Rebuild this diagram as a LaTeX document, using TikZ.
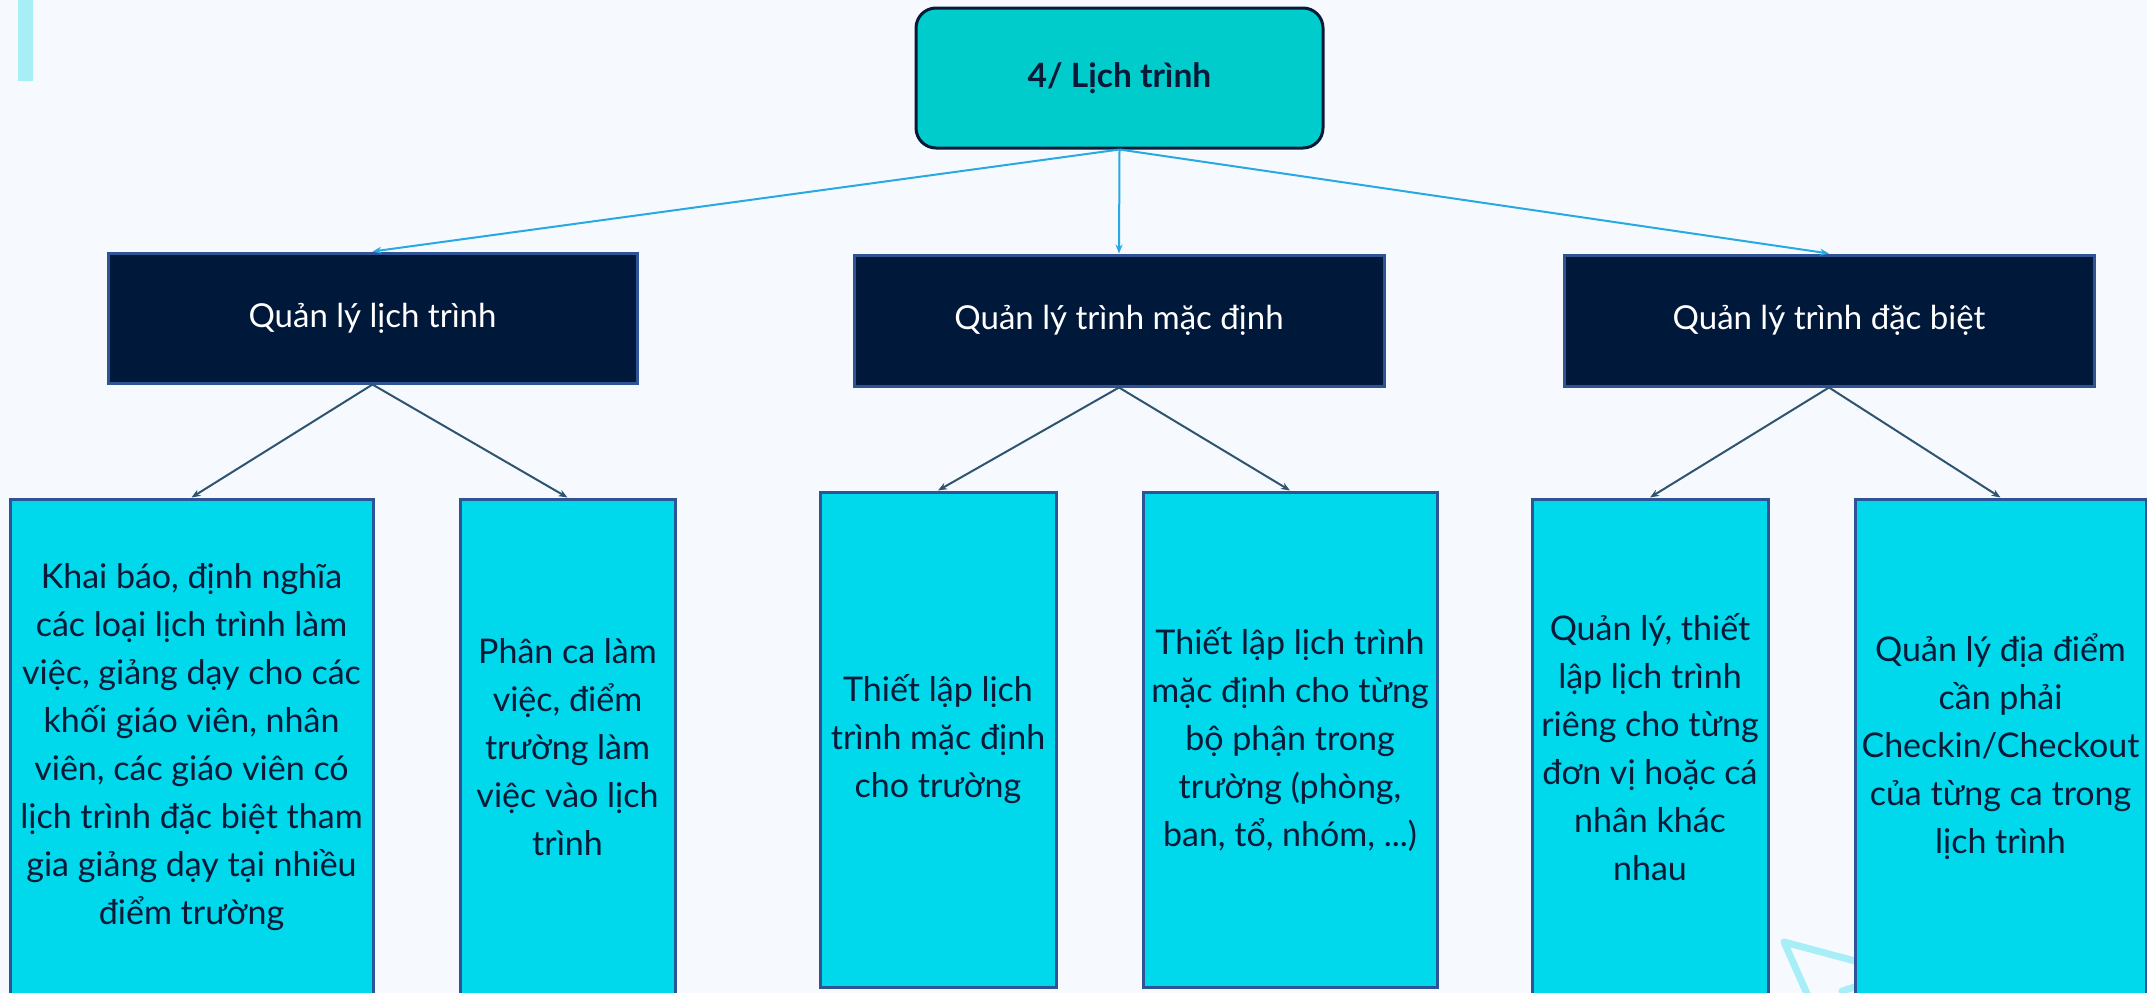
\documentclass[tikz,border=0pt]{standalone}
\usepackage{fontspec}
\setmainfont{Lato}
\usetikzlibrary{arrows.meta}
\definecolor{bgcol}{RGB}{246,250,254}
\definecolor{rootfill}{RGB}{0,204,204}
\definecolor{darkink}{RGB}{8,26,56}
\definecolor{navyfill}{RGB}{0,24,58}
\definecolor{boxline}{RGB}{47,84,150}
\definecolor{cyanfill}{RGB}{0,216,236}
\definecolor{toparrow}{RGB}{41,169,225}
\definecolor{subarrow}{RGB}{46,84,112}
\definecolor{decor}{RGB}{168,238,246}
\tikzset{
  rootbox/.style={draw=darkink, fill=rootfill, line width=3pt, rounded corners=20pt,
    inner sep=0pt, text=darkink, font=\fontsize{33.5}{40}\selectfont\bfseries},
  headbox/.style={draw=boxline, fill=navyfill, line width=3pt, inner sep=0pt,
    text=white, font=\fontsize{33}{40}\selectfont},
  leafbox/.style={draw=boxline, fill=cyanfill, line width=3pt, inner sep=0pt,
    text=darkink, align=center, font=\fontsize{34}{48}\selectfont},
  toplink/.style={draw=toparrow, line width=2pt, -{Stealth[length=9pt,width=7pt]}},
  sublink/.style={draw=subarrow, line width=2pt, -{Stealth[length=9pt,width=7pt]}},
  decorline/.style={draw=decor, line width=7pt, line cap=round, line join=round}
}
\begin{document}
\begin{tikzpicture}[x=1pt,y=-1pt]
\useasboundingbox (0,0) rectangle (2147,993);
\clip (0,0) rectangle (2147,993);
\fill[bgcol] (0,0) rectangle (2147,993);
\fill[decor] (18,0) rectangle (33,81);

% root
\node[rootbox, minimum width=407pt, minimum height=140pt] (root) at (1119.5,78) {4/ Lịch trình};

% level 2
\node[headbox, minimum width=529pt, minimum height=130pt] (a) at (372.5,318) {Quản lý lịch trình};
\node[headbox, minimum width=530pt, minimum height=131pt] (b) at (1119,320.5) {Quản lý trình mặc định};
\node[headbox, minimum width=530pt, minimum height=131pt] (c) at (1829,320.5) {Quản lý trình đặc biệt};

% level 3
\node[leafbox, minimum width=363pt, minimum height=496pt] (a1) at (191.5,747)
  {Khai báo, định nghĩa\\các loại lịch trình làm\\việc, giảng dạy cho các\\khối giáo viên, nhân\\viên, các giáo viên có\\lịch trình đặc biệt tham\\gia giảng dạy tại nhiều\\điểm trường};
\node[leafbox, minimum width=215pt, minimum height=496pt] (a2) at (567.5,747)
  {Phân ca làm\\việc, điểm\\trường làm\\việc vào lịch\\trình};
\node[leafbox, minimum width=236pt, minimum height=495pt] (b1) at (938,739.5)
  {Thiết lập lịch\\trình mặc định\\cho trường};
\node[leafbox, minimum width=294pt, minimum height=495pt] (b2) at (1290,739.5)
  {Thiết lập lịch trình\\mặc định cho từng\\bộ phận trong\\trường (phòng,\\ban, tổ, nhóm, ...)};
\node[leafbox, minimum width=236pt, minimum height=496pt] (c1) at (1650,747)
  {Quản lý, thiết\\lập lịch trình\\riêng cho từng\\đơn vị hoặc cá\\nhân khác\\nhau};

% decoration partly behind the last box
\draw[decorline] (1870,965) -- (1784,942) -- (1812,1005);
\draw[decorline] (1842,991) -- (1870,982);

\node[leafbox, minimum width=291pt, minimum height=496pt] (c2) at (2000.5,747)
  {Quản lý địa điểm\\cần phải\\Checkin/Checkout\\của từng ca trong\\lịch trình};

% connectors
\draw[toplink] (root.south) -- (a.north);
\draw[toplink] (root.south) -- (b.north);
\draw[toplink] (root.south) -- (c.north);

\draw[sublink] (a.south) -- (a1.north);
\draw[sublink] (a.south) -- (a2.north);
\draw[sublink] (b.south) -- (b1.north);
\draw[sublink] (b.south) -- (b2.north);
\draw[sublink] (c.south) -- (c1.north);
\draw[sublink] (c.south) -- (c2.north);
\end{tikzpicture}
\end{document}
